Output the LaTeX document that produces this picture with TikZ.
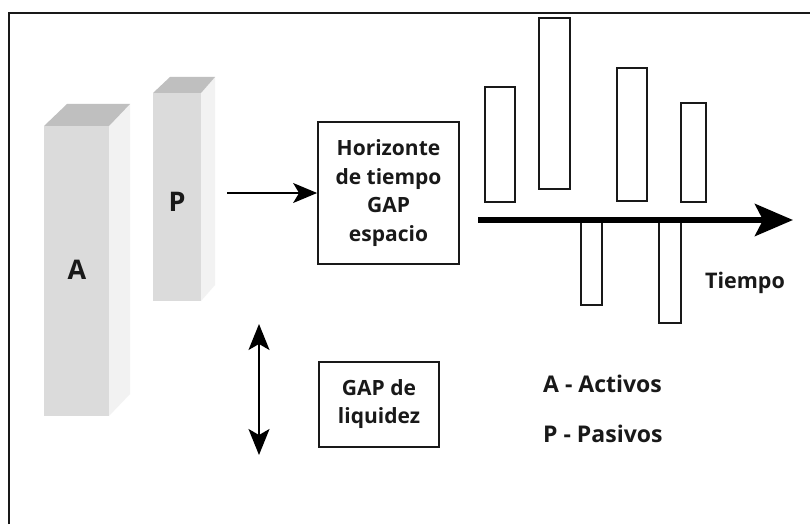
\documentclass[tikz,border=0pt]{standalone}
\usepackage{fontspec}
\setmainfont{Open Sans}
\usetikzlibrary{arrows.meta}
\begin{document}
\begin{tikzpicture}[x=1pt,y=-1pt,
  frameline/.style={line width=2pt,black!90},
  boxnode/.style={draw,line width=1.8pt,black!90,inner sep=0pt,align=center,
    font=\bfseries\fontsize{21}{28.5}\selectfont},
  bar/.style={draw,line width=1.8pt,black!90,fill=white,inner sep=0pt},
  front/.style={fill=black!14},
  topface/.style={fill=black!25},
  sideface/.style={fill=black!5},
  label/.style={font=\bfseries\fontsize{27}{30}\selectfont,text=black!90},
  legend/.style={font=\bfseries\fontsize{23}{26}\selectfont,text=black!90,anchor=west,inner sep=0pt},
  bothheads/.style={{Stealth[length=26pt,width=21pt,inset=6pt]}-{Stealth[length=26pt,width=21pt,inset=6pt]}},
]
\useasboundingbox (0,0) rectangle (810,524);
\fill[white] (0,0) rectangle (810,524);

% open frame: top and left edges only
\draw[frameline] (9,524) -- (9,13) -- (810,13);

% column A
\fill[sideface] (109,126) -- (130,104) -- (130,394) -- (109,416) -- cycle;
\fill[topface] (44,126) -- (67,104) -- (130,104) -- (109,126) -- cycle;
\fill[front] (44,126) rectangle (109,416);
\node[label] (A) at (77,270) {A};

% column P
\fill[sideface] (201,93) -- (215,77) -- (215,285) -- (201,301) -- cycle;
\fill[topface] (153,93) -- (170,77) -- (215,77) -- (201,93) -- cycle;
\fill[front] (153,93) rectangle (201,301);
\node[label] (P) at (177,202) {P};

% boxes
\node[boxnode,minimum width=141pt,minimum height=142pt] (hor) at (388.5,193)
  {Horizonte\\de tiempo\\GAP\\espacio};
\node[boxnode,minimum width=120pt,minimum height=85pt,
  font=\bfseries\fontsize{21}{28}\selectfont] (liq) at (379,404.5)
  {GAP de\\liquidez};

% arrow into the time-horizon box
\coordinate (pout) at (227,193);
\draw[line width=1.4pt,-{Stealth[length=24pt,width=20pt,inset=6pt]}] (pout) -- (hor.west);

% double-headed arrow
\coordinate (dtop) at (259,324);
\coordinate (dbot) at (259,455);
\draw[line width=1.8pt,bothheads] (dtop) -- (dbot);

% cash-flow bars above the axis
\node[bar,minimum width=30pt,minimum height=115pt] (b1) at (500,144.5) {};
\node[bar,minimum width=31pt,minimum height=171pt] (b2) at (554.5,103.5) {};
\node[bar,minimum width=30pt,minimum height=133pt] (b3) at (632,134.5) {};
\node[bar,minimum width=25pt,minimum height=99pt] (b4) at (693.5,152.5) {};
% bars below the axis
\node[bar,minimum width=21pt,minimum height=83pt] (n1) at (591.5,263.5) {};
\node[bar,minimum width=22pt,minimum height=101pt] (n2) at (670,272.5) {};

% time axis
\coordinate (t0) at (478,220);
\coordinate (t1) at (793,220);
\draw[line width=6pt,-{Stealth[length=38pt,width=32pt,inset=8pt]}] (t0) -- (t1);
\node[label,font=\bfseries\fontsize{21.5}{24}\selectfont] (tiempo) at (745,283) {Tiempo};

% legend
\node[legend] (la) at (543,384) {A - Activos};
\node[legend] (lp) at (543,434) {P - Pasivos};
\end{tikzpicture}
\end{document}
